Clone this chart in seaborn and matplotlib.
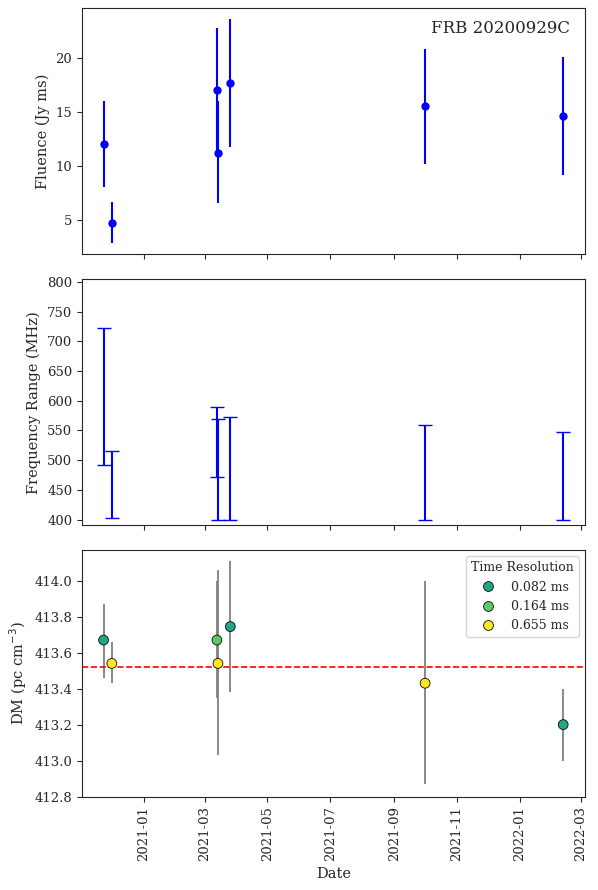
import numpy as np
import pandas as pd
import matplotlib
matplotlib.use("Agg")
import matplotlib.pyplot as plt
import matplotlib.dates as mdates
import seaborn as sns

sns.set_style("ticks")
plt.rcParams['font.family'] = ['DejaVu Serif']
plt.rcParams['font.size'] = 9.5

dates = pd.to_datetime(["2020-11-23", "2020-12-01", "2021-03-13", "2021-03-14",
                        "2021-03-26", "2021-10-01", "2022-02-12"])
fluence = [12.0, 4.7, 17.0, 11.2, 17.7, 15.5, 14.6]
fl_lo = [8.0, 2.8, 11.2, 6.5, 11.7, 10.2, 9.1]
fl_hi = [16.0, 6.6, 22.8, 16.0, 23.6, 20.8, 20.1]
f_lo = [492, 403, 472, 400, 400, 400, 400]
f_hi = [722, 515, 590, 570, 572, 560, 548]
dm = [413.67, 413.54, 413.67, 413.54, 413.745, 413.43, 413.20]
dm_lo = [413.46, 413.43, 413.35, 413.03, 413.38, 412.87, 413.00]
dm_hi = [413.87, 413.66, 414.00, 414.06, 414.11, 414.00, 413.40]
tres = ["0.082 ms", "0.655 ms", "0.164 ms", "0.655 ms", "0.082 ms", "0.655 ms", "0.082 ms"]
dm_mean = 413.52
palette = {"0.082 ms": "#21a585", "0.164 ms": "#5ec962", "0.655 ms": "#fde725"}

df = pd.DataFrame({"date": dates, "fluence": fluence, "dm": dm, "tres": tres})

fig, axes = plt.subplots(3, 1, figsize=(5.98, 8.9), dpi=100, sharex=True)
fig.subplots_adjust(left=0.137, right=0.978, top=0.991, bottom=0.105, hspace=0.1)
ax1, ax2, ax3 = axes

fl = np.array(fluence)
ax1.errorbar(df["date"], fl, yerr=[fl - np.array(fl_lo), np.array(fl_hi) - fl],
             fmt="o", color="blue", ms=5, lw=1.5)
ax1.set_ylabel("Fluence (Jy ms)", fontsize=10.5)
ax1.text(0.97, 0.95, "FRB 20200929C", transform=ax1.transAxes, ha="right", va="top", fontsize=12)
ax1.set_yticks([5, 10, 15, 20])

mid = (np.array(f_lo) + np.array(f_hi)) / 2
half = (np.array(f_hi) - np.array(f_lo)) / 2
ax2.errorbar(df["date"], mid, yerr=half, fmt="none", ecolor="blue", capsize=5, lw=1.5)
ax2.set_ylim(390, 805)
ax2.set_ylabel("Frequency Range (MHz)", fontsize=10.5)

d = np.array(dm)
ax3.errorbar(df["date"], d, yerr=[d - np.array(dm_lo), np.array(dm_hi) - d],
             fmt="none", ecolor="gray", lw=1.3)
ax3.axhline(dm_mean, color="red", ls="--", lw=1.2)
sns.scatterplot(data=df, x="date", y="dm", hue="tres", palette=palette,
                hue_order=["0.082 ms", "0.164 ms", "0.655 ms"],
                edgecolor="black", s=50, zorder=3, ax=ax3)
ax3.set_ylim(412.8, 414.17)
ax3.set_yticks(np.arange(412.8, 414.05, 0.2))
ax3.set_ylabel("DM (pc cm$^{-3}$)", fontsize=10.5)
ax3.set_xlabel("Date", fontsize=10.5)
ax3.legend(title="Time Resolution", loc="upper right", fontsize=9, title_fontsize=9)

ax3.set_xlim(pd.Timestamp("2020-11-02"), pd.Timestamp("2022-03-05"))
ax3.xaxis.set_major_locator(mdates.MonthLocator(bymonth=[1, 3, 5, 7, 9, 11]))
ax3.xaxis.set_major_formatter(mdates.DateFormatter("%Y-%m"))
plt.setp(ax3.get_xticklabels(), rotation=90)

fig.savefig("out.png")
